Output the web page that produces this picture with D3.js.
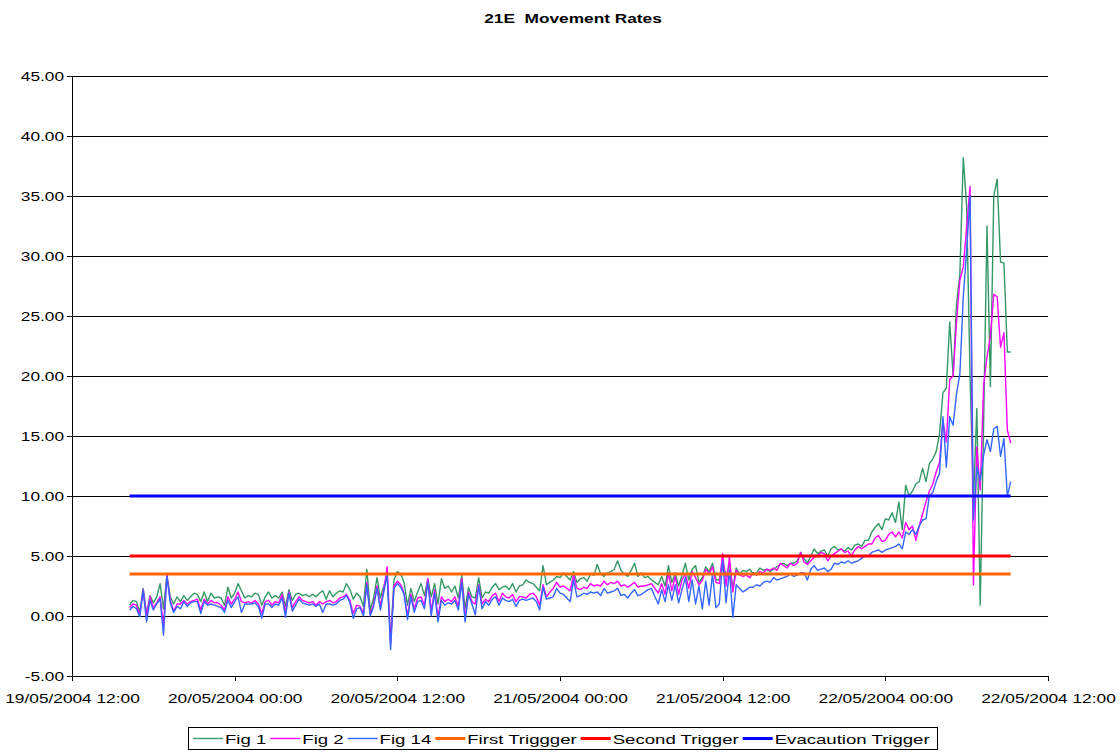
<!DOCTYPE html>
<html>
<head>
<meta charset="utf-8">
<script src="https://cdn.jsdelivr.net/npm/d3@7"></script>
<style>
  body { margin: 0; background: #fff; }
  svg { display: block; font-family: "Liberation Sans", Arial, sans-serif; }
</style>
</head>
<body>
<div id="chart"></div>
<script>
// 15 minute readings, first one at 19/05/2004 16:15
const startTime = new Date(2004, 4, 19, 16, 15);
const stepMinutes = 15;

const fig1 = [
  0.9, 1.3, 1.2, 0.3, 2.3, 0.2, 1.7, 1.1, 1.6, 2.7,
  0.6, 3.4, 1.6, 1.0, 1.6, 1.2, 1.7, 1.3, 1.6, 1.9,
  1.8, 1.2, 2.0, 1.2, 1.9, 1.5, 1.6, 1.5, 0.9, 2.4,
  1.5, 1.9, 2.7, 2.1, 1.5, 1.7, 1.6, 1.9, 1.8, 0.9,
  1.6, 2.0, 1.5, 1.7, 1.5, 2.0, 0.8, 2.2, 1.3, 1.8,
  1.9, 1.7, 1.8, 1.6, 1.8, 1.6, 1.9, 2.1, 1.4, 2.1,
  1.6, 1.9, 2.1, 2.0, 2.7, 2.2, 1.4, 1.9, 1.6, 0.8,
  3.9, 0.5, 1.5, 3.2, 1.5, 2.5, 3.4, -2.0, 3.0, 3.7,
  3.5, 2.8, 0.9, 2.3, 1.2, 2.0, 2.7, 1.7, 3.1, 1.6,
  2.7, 1.0, 3.1, 2.3, 2.5, 2.0, 2.5, 1.5, 3.4, 0.6,
  2.4, 1.6, 1.5, 3.2, 1.5, 2.0, 1.9, 2.4, 2.7, 2.2,
  2.4, 2.5, 2.2, 2.7, 2.0, 2.5, 2.6, 3.0, 2.8, 2.7,
  2.4, 2.1, 4.2, 2.6, 2.8, 3.0, 3.3, 3.2, 3.6, 3.3,
  3.0, 3.7, 2.8, 3.1, 3.2, 2.9, 3.5, 3.4, 4.3, 3.5,
  3.3, 3.6, 3.7, 3.9, 4.6, 3.8, 3.5, 3.3, 3.8, 4.4,
  3.3, 3.6, 3.2, 3.3, 3.0, 2.8, 2.6, 3.3, 2.5, 4.2,
  2.8, 3.6, 2.5, 3.4, 4.4, 3.0, 3.9, 4.2, 2.8, 3.2,
  4.1, 3.7, 4.4, 3.0, 3.0, 4.6, 3.3, 4.3, 2.3, 4.0,
  3.5, 3.8, 3.7, 3.9, 3.5, 3.6, 4.0, 3.8, 3.9, 3.7,
  3.9, 4.1, 4.3, 4.4, 4.2, 4.4, 4.4, 4.6, 5.3, 4.8,
  4.4, 5.0, 5.6, 5.2, 5.4, 5.5, 5.0, 5.6, 5.8, 5.5,
  5.6, 5.4, 5.7, 5.5, 5.9, 6.0, 5.8, 6.3, 6.3, 7.0,
  7.4, 7.7, 7.2, 8.1, 8.0, 8.6, 7.8, 9.5, 7.2, 10.9,
  10.0, 10.4, 11.0, 11.2, 12.3, 11.2, 12.7, 13.1, 13.7, 15.2,
  18.6, 19.0, 24.5, 20.0, 26.0, 28.5, 38.2, 34.1, 20.0, 9.5,
  17.3, 0.9, 16.0, 32.5, 19.1, 35.0, 36.4, 29.5, 29.4, 22.0,
  22.0
];

const fig2 = [
  0.7, 1.0, 0.9, 0.1, 2.2, 0.0, 1.6, 0.7, 1.1, 1.6,
  -0.8, 3.4, 1.3, 0.4, 1.0, 1.0, 1.3, 1.0, 1.2, 1.3,
  1.4, 0.5, 1.4, 1.0, 1.3, 1.1, 1.1, 0.9, 0.5, 1.6,
  1.0, 1.4, 2.0, 1.2, 1.1, 1.2, 1.1, 1.3, 1.0, 0.2,
  1.2, 1.3, 0.9, 1.2, 1.1, 1.8, 0.3, 2.0, 0.7, 1.2,
  1.6, 1.3, 1.2, 1.1, 1.2, 0.9, 1.2, 1.0, 1.2, 1.3,
  1.1, 1.2, 1.5, 1.6, 1.8, 1.3, 0.2, 0.9, 0.8, 0.2,
  2.8, 0.1, 1.0, 2.5, 0.8, 2.2, 4.1, -2.3, 2.5, 2.9,
  2.6, 1.9, 0.0, 1.8, 0.6, 1.5, 1.6, 0.9, 3.1, 0.4,
  2.2, -0.1, 1.6, 1.2, 1.4, 1.2, 1.6, 0.8, 3.1, -0.2,
  2.0, 1.2, 1.0, 2.6, 1.0, 1.4, 1.2, 1.7, 1.9, 1.2,
  1.9, 1.6, 1.5, 1.8, 1.2, 1.6, 1.6, 1.5, 1.8, 1.9,
  1.6, 0.9, 2.6, 1.6, 2.0, 2.3, 2.8, 2.4, 2.5, 2.3,
  2.1, 3.4, 2.3, 2.2, 2.4, 2.3, 2.7, 2.5, 2.6, 2.5,
  2.9, 2.6, 2.8, 2.7, 2.9, 2.5, 2.6, 2.4, 2.6, 2.8,
  2.4, 2.5, 2.5, 2.6, 2.7, 2.3, 1.9, 2.7, 1.8, 3.6,
  2.1, 3.3, 1.8, 3.0, 3.5, 2.3, 3.7, 3.2, 2.6, 3.0,
  3.9, 3.5, 4.1, 2.8, 2.7, 5.2, 2.5, 4.9, 2.0, 3.8,
  3.4, 3.3, 3.4, 3.2, 3.6, 3.4, 3.7, 3.6, 3.9, 3.8,
  4.0, 3.8, 4.4, 4.2, 4.0, 4.4, 4.2, 4.4, 5.3, 4.5,
  4.3, 4.6, 4.9, 5.0, 5.3, 5.2, 4.6, 5.0, 5.2, 5.4,
  5.6, 5.3, 5.4, 5.0, 5.5, 5.8, 5.6, 5.8, 6.0, 6.0,
  6.5, 6.7, 6.2, 6.3, 6.8, 7.0, 6.6, 7.0, 6.5, 7.8,
  7.2, 7.5, 6.3, 7.5, 8.5, 9.5, 10.4, 11.0, 12.0, 12.8,
  16.3, 14.5, 19.7, 20.0, 24.5, 28.0, 29.1, 32.4, 35.8, 2.6,
  14.1, 10.5, 19.2, 21.6, 23.3, 26.8, 26.6, 22.4, 23.6, 15.5,
  14.4
];

const fig14 = [
  0.5, 0.8, 0.6, -0.05, 2.1, -0.5, 1.3, 0.5, 1.0, 1.4,
  -1.6, 3.3, 1.1, 0.3, 0.8, 0.6, 1.2, 0.8, 1.1, 1.2,
  1.2, 0.2, 1.2, 0.9, 1.0, 0.9, 0.8, 0.7, 0.3, 1.3,
  0.7, 1.2, 1.6, 0.3, 1.0, 1.0, 1.0, 1.1, 0.8, -0.2,
  1.0, 1.0, 0.7, 1.0, 0.9, 1.5, -0.1, 1.9, 0.4, 0.9,
  1.4, 1.1, 1.0, 0.9, 1.0, 0.8, 1.0, 0.3, 1.0, 1.0,
  0.9, 1.0, 1.3, 1.4, 1.7, 1.1, -0.2, 0.6, 0.7, 0.0,
  2.6, 0.0, 0.8, 2.3, 0.5, 2.0, 3.5, -2.8, 2.3, 2.7,
  2.4, 1.8, -0.3, 1.6, 0.3, 1.2, 1.3, 0.6, 2.8, 0.0,
  1.9, -0.5, 1.3, 0.9, 1.1, 1.0, 1.3, 0.5, 2.8, -0.5,
  1.8, 1.0, 0.1, 2.5, 0.6, 1.2, 0.9, 1.4, 1.6, 0.9,
  1.5, 1.3, 1.2, 1.4, 0.8, 1.3, 1.4, 1.3, 1.4, 1.5,
  1.2, 0.5, 2.4, 1.4, 1.5, 1.6, 2.3, 1.9, 1.8, 1.5,
  1.2, 3.0, 1.6, 1.7, 1.9, 1.8, 2.0, 1.9, 2.0, 1.7,
  2.3, 1.9, 2.0, 2.1, 2.3, 1.7, 1.8, 1.5, 1.9, 2.2,
  1.7, 1.8, 2.0, 2.2, 2.3, 1.6, 1.0, 2.2, 1.2, 2.6,
  1.3, 2.6, 1.1, 2.2, 3.2, 1.2, 3.0, 1.0, 2.5, 0.6,
  2.9, 0.9, 3.5, 0.7, 1.0, 4.6, 1.1, 3.8, -0.1, 2.6,
  2.3, 2.0, 2.2, 2.4, 2.4, 2.6, 2.5, 2.8, 2.9, 2.8,
  3.2, 3.0, 3.1, 3.2, 3.3, 3.5, 3.3, 3.4, 3.6, 3.6,
  3.0, 3.9, 4.2, 3.8, 3.9, 4.0, 3.7, 3.9, 4.4, 4.3,
  4.5, 4.4, 4.6, 4.4, 4.5, 4.6, 4.8, 5.0, 5.0, 5.3,
  5.4, 5.5, 5.3, 5.5, 5.6, 5.7, 5.8, 6.0, 5.6, 7.0,
  6.8, 7.2, 6.8, 7.5, 8.0, 8.1, 10.0, 10.3, 11.2, 11.9,
  16.6, 12.4, 16.6, 15.9, 18.5, 20.2, 26.6, 30.5, 35.0, 8.0,
  12.4, 11.3, 13.4, 14.7, 13.7, 15.6, 15.8, 13.3, 14.8, 10.0,
  11.2
];

const firstTrigger = 3.5;
const secondTrigger = 5;
const evacuationTrigger = 10;

const yTicks = [-5, 0, 5, 10, 15, 20, 25, 30, 35, 40, 45];
const xStart = new Date(2004, 4, 19, 12, 0);
const xEnd = new Date(2004, 4, 22, 12, 0);

const times = fig1.map((_, i) => new Date(startTime.getTime() + i * stepMinutes * 60000));

const series = [
  {name: "Fig 1", values: fig1, color: "#339966", width: 1.4},
  {name: "Fig 2", values: fig2, color: "#ff00ff", width: 1.4},
  {name: "Fig 14", values: fig14, color: "#3366ff", width: 1.4}
];
const triggers = [
  {name: "First Triggger", value: firstTrigger, color: "#ff6600", width: 3},
  {name: "Second Trigger", value: secondTrigger, color: "#ff0000", width: 3},
  {name: "Evacaution Trigger", value: evacuationTrigger, color: "#0000ff", width: 3}
];

// text in the original is stretched sideways
const stretch = 1.33;
const legendStretch = 1.43;
const fontSize = 13;

const W = 1120, H = 753;
const plot = {left: 72, right: 1048, top: 76, bottom: 676};

const svg = d3.select("#chart").append("svg")
  .attr("width", W)
  .attr("height", H);

const x = d3.scaleTime().domain([xStart, xEnd]).range([plot.left, plot.right]);
const y = d3.scaleLinear().domain([-5, 45]).range([plot.bottom, plot.top]);

// title (double space kept)
svg.append("text")
  .attr("transform", `translate(573,23) scale(${stretch},1)`)
  .attr("text-anchor", "middle")
  .style("font-size", "13px")
  .style("font-weight", "bold")
  .style("white-space", "pre")
  .text("21E  Movement Rates");

// gridlines
svg.append("g")
  .attr("transform", `translate(${plot.left},0)`)
  .call(d3.axisLeft(y).tickValues(yTicks).tickSize(-(plot.right - plot.left)).tickFormat(""))
  .call(g => g.select(".domain").remove())
  .call(g => g.selectAll("line").attr("stroke", "#000").attr("shape-rendering", "crispEdges"));

// y axis
const yAxis = svg.append("g")
  .attr("transform", `translate(${plot.left},0)`)
  .call(d3.axisLeft(y).tickValues(yTicks).tickSize(5).tickSizeOuter(0).tickFormat(d => d.toFixed(2)));
yAxis.selectAll("line, path").attr("stroke", "#000").attr("shape-rendering", "crispEdges");
yAxis.selectAll("text")
  .attr("x", -8 / stretch)
  .attr("transform", `scale(${stretch},1)`)
  .style("font-size", fontSize + "px")
  .attr("fill", "#000");

// x axis
const xAxis = svg.append("g")
  .attr("transform", `translate(0,${plot.bottom})`)
  .call(d3.axisBottom(x).ticks(d3.timeHour.every(12)).tickSize(5).tickSizeOuter(0)
    .tickFormat(d3.timeFormat("%d/%m/%Y %H:%M")));
xAxis.selectAll("line, path").attr("stroke", "#000").attr("shape-rendering", "crispEdges");
xAxis.selectAll("text")
  .attr("y", 27)
  .attr("dy", 0)
  .attr("transform", `scale(${stretch},1)`)
  .style("font-size", fontSize + "px")
  .attr("fill", "#000");

// data lines
const line = d3.line()
  .x((d, i) => x(times[i]))
  .y(d => y(d));

svg.append("g").selectAll("path")
  .data(series)
  .join("path")
  .attr("fill", "none")
  .attr("stroke", d => d.color)
  .attr("stroke-width", d => d.width)
  .attr("stroke-linejoin", "round")
  .attr("d", d => line(d.values));

// trigger lines over the same time span
const first = times[0], last = times[times.length - 1];
svg.append("g").selectAll("line")
  .data(triggers)
  .join("line")
  .attr("x1", x(first))
  .attr("x2", x(last))
  .attr("y1", d => y(d.value))
  .attr("y2", d => y(d.value))
  .attr("stroke", d => d.color)
  .attr("stroke-width", d => d.width);

// legend
const legendItems = series.concat(triggers);
const legend = svg.append("g");
legend.append("rect")
  .attr("x", 188.5).attr("y", 727.5)
  .attr("width", 749).attr("height", 22)
  .attr("fill", "#fff").attr("stroke", "#000");

let lx = 193;
legendItems.forEach(d => {
  legend.append("line")
    .attr("x1", lx).attr("x2", lx + 30)
    .attr("y1", 738.5).attr("y2", 738.5)
    .attr("stroke", d.color)
    .attr("stroke-width", d.width);
  const t = legend.append("text")
    .attr("transform", `translate(${lx + 32},743.5) scale(${legendStretch},1)`)
    .style("font-size", fontSize + "px")
    .text(d.name);
  lx += 32 + t.node().getComputedTextLength() * legendStretch + 4;
});
</script>
</body>
</html>
